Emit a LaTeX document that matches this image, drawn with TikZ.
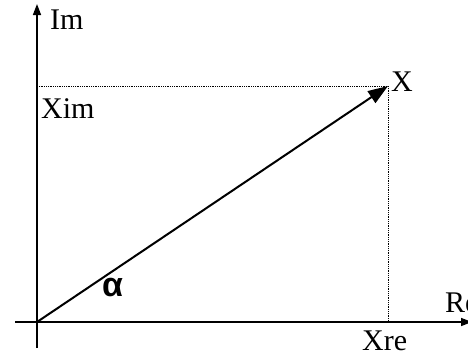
\documentclass[tikz,border=0pt]{standalone}
\usepackage{fontspec}
\setmainfont{Liberation Serif}
\newfontfamily\alphafont{Liberation Sans}
\usetikzlibrary{arrows.meta, positioning}

\begin{document}
\begin{tikzpicture}[
        x=1pt, y=-1pt,
        axis/.style={line width=1.5pt},
        vector/.style={line width=2pt, -{Triangle[length=20pt, width=14pt]}},
        guide/.style={line width=0.8pt, dash pattern=on 0.8pt off 1pt},
        axislabel/.style={font=\fontsize{30}{34}\selectfont, inner sep=0pt},
        anglelabel/.style={font=\alphafont\bfseries\fontsize{34}{38}\selectfont, inner sep=0pt}
    ]
        \clip (0,0) rectangle (468,356);

        \coordinate (origin) at (37, 322);
        \coordinate (imtop) at (37, 4);
        \coordinate (imbottom) at (37, 348);
        \coordinate (releft) at (15, 322);
        \coordinate (retip) at (472, 322);
        \coordinate (xpoint) at (388, 86);
        \coordinate (ximfoot) at (37, 86);
        \coordinate (xrefoot) at (388, 322);

        \draw[guide] (ximfoot) -- (xpoint);
        \draw[guide] (xpoint) -- (xrefoot);

        \draw[axis, -{Triangle[length=11pt, width=8pt]}] (imbottom) -- (imtop);
        \draw[axis, -{Triangle[length=11pt, width=8pt]}] (releft) -- (retip);

        \draw[vector] (origin) -- (xpoint);

        \node[axislabel, anchor=base west] (im) at (50, 29) {Im};
        \node[axislabel, anchor=base west] (re) at (445, 312) {Re};
        \node[axislabel, anchor=base west] (xim) at (41, 118) {Xim};
        \node[axislabel, anchor=base west] (xre) at (362, 350) {Xre};
        \node[axislabel, anchor=base west] (xname) at (391, 91) {X};
        \node[anglelabel, anchor=base west] (alpha) at (102, 296) {α};
    \end{tikzpicture}
\end{document}
